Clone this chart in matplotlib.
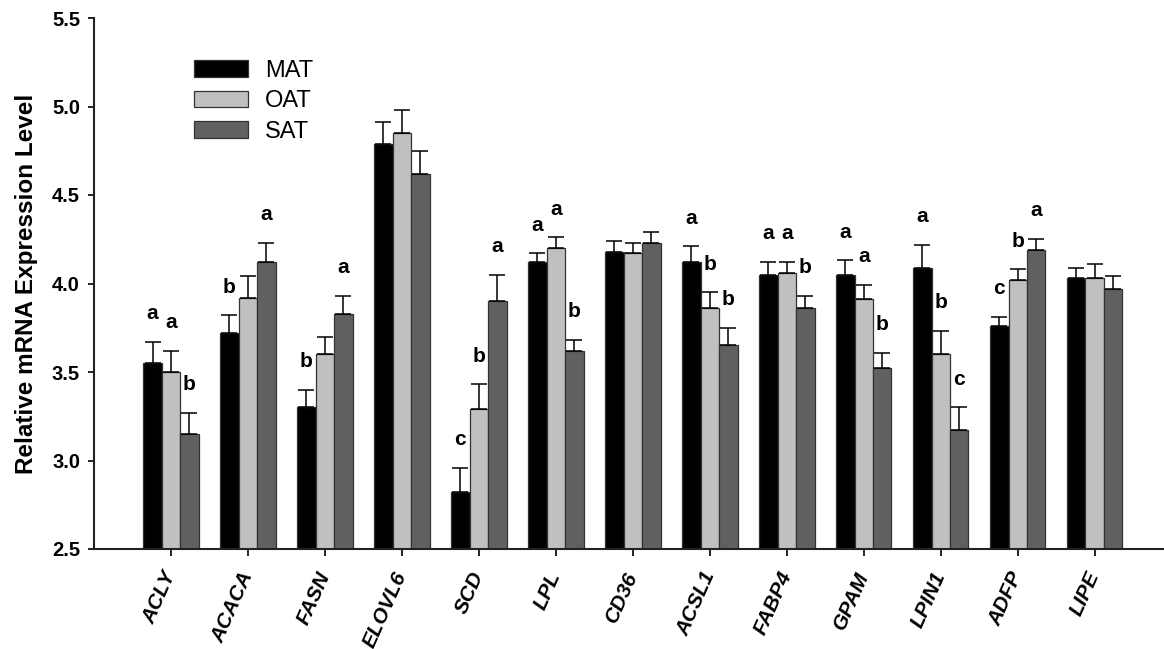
import numpy as np
import matplotlib
matplotlib.use("Agg")
import matplotlib.pyplot as plt

plt.rcParams['font.family'] = ['Liberation Sans', 'DejaVu Sans']

# Expression des gènes lipogéniques par tissu adipeux
genes = ['ACLY', 'ACACA', 'FASN', 'ELOVL6', 'SCD', 'LPL', 'CD36',
         'ACSL1', 'FABP4', 'GPAM', 'LPIN1', 'ADFP', 'LIPE']
tissus = ['MAT', 'OAT', 'SAT']

mat = [3.55, 3.72, 3.30, 4.79, 2.82, 4.12, 4.18, 4.12, 4.05, 4.05, 4.09, 3.76, 4.03]
oat = [3.50, 3.92, 3.60, 4.85, 3.29, 4.20, 4.17, 3.86, 4.06, 3.91, 3.60, 4.02, 4.03]
sat = [3.15, 4.12, 3.83, 4.62, 3.90, 3.62, 4.23, 3.65, 3.86, 3.52, 3.17, 4.19, 3.97]

err_mat = [0.12, 0.10, 0.10, 0.12, 0.14, 0.05, 0.06, 0.09, 0.07, 0.08, 0.13, 0.05, 0.06]
err_oat = [0.12, 0.12, 0.10, 0.13, 0.14, 0.06, 0.06, 0.09, 0.06, 0.08, 0.13, 0.06, 0.08]
err_sat = [0.12, 0.11, 0.10, 0.13, 0.15, 0.06, 0.06, 0.10, 0.07, 0.09, 0.13, 0.06, 0.07]

# lettres de significativité (MAT, OAT, SAT)
lettres = [('a', 'a', 'b'), ('b', '', 'a'), ('b', '', 'a'), ('', '', ''),
           ('c', 'b', 'a'), ('a', 'a', 'b'), ('', '', ''), ('a', 'b', 'b'),
           ('a', 'a', 'b'), ('a', 'a', 'b'), ('a', 'b', 'c'), ('c', 'b', 'a'),
           ('', '', '')]

couleurs = ['#000000', '#c0c0c0', '#606060']
series = [mat, oat, sat]
erreurs = [err_mat, err_oat, err_sat]

fig = plt.figure(figsize=(11.64, 6.49), dpi=100)
ax = fig.add_axes([94 / 1164, 1 - 549 / 649, 1 - 94 / 1164, (549 - 18) / 649])

x = np.arange(len(genes))
largeur = 0.24
for k in range(3):
    pos = x + (k - 1) * largeur
    ax.bar(pos, series[k], largeur, bottom=0, color=couleurs[k],
           edgecolor='#333333', linewidth=0.9, label=tissus[k], zorder=2)
    ax.errorbar(pos, series[k], yerr=[np.zeros(len(genes)), erreurs[k]],
                fmt='none', ecolor='black', elinewidth=1.1, capsize=5.5,
                capthick=1.1, zorder=3)
    for i in range(len(genes)):
        lettre = lettres[i][k]
        if lettre:
            ax.text(pos[i], series[k][i] + erreurs[k][i] + 0.16, lettre,
                    ha='center', va='center', fontsize=15, fontweight='bold')

ax.set_xlim(-1, 12.9)
ax.set_ylim(2.5, 5.5)
ax.set_yticks(np.arange(2.5, 5.51, 0.5))
ax.set_yticklabels(['%.1f' % v for v in np.arange(2.5, 5.51, 0.5)],
                   fontsize=14.5, fontweight='bold')
ax.tick_params(axis='y', length=4, width=1.2, direction='out', pad=6)
ax.set_xticks(x)
ax.set_xticklabels(genes, rotation=66, ha='right', va='center',
                   rotation_mode='anchor', fontsize=15, fontweight='bold',
                   fontstyle='italic')
ax.tick_params(axis='x', length=5, width=1.2, direction='out', pad=12)
for s in ['top', 'right']:
    ax.spines[s].set_visible(False)
for s in ['left', 'bottom']:
    ax.spines[s].set_linewidth(1.5)
    ax.spines[s].set_color('#222222')

ax.set_ylabel('Relative mRNA Expression Level', fontsize=17.5, fontweight='bold',
              labelpad=10)

ax.legend(loc='upper left', bbox_to_anchor=(194 / 1164, 1 - 60 / 649),
          bbox_transform=fig.transFigure, frameon=False, fontsize=17,
          handlelength=2.3, handleheight=0.7, handletextpad=0.7,
          labelspacing=0.35, borderpad=0, borderaxespad=0)

fig.savefig('out.png', dpi=100)
plt.close(fig)
